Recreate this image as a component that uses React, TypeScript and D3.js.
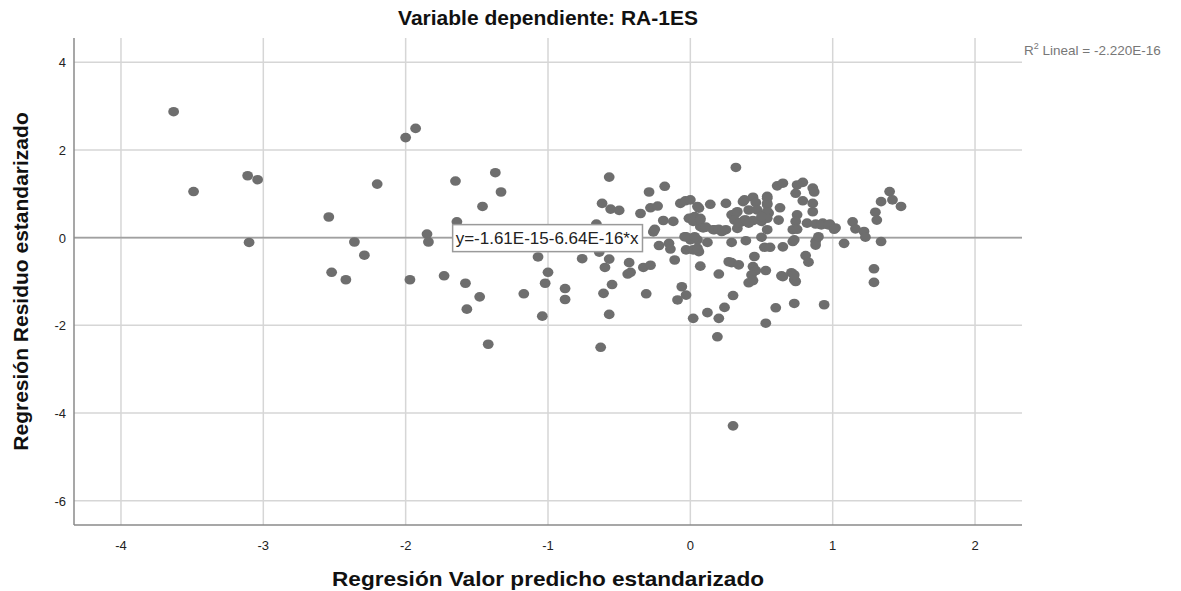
import React, { useEffect, useRef } from "react";
import * as d3 from "d3";

// predicted (standardized) values
const predicted = [
	-3.63, -3.49, -3.11, -3.04, -3.1, -2.54, -2.52, -2.42, -2.36, -2.29, -2.2, -2.0, -1.93, -1.85, -1.84, -1.97,
	-1.73, -1.65, -1.64, -1.37, -1.33, -1.46, -1.58, -1.48, -1.57, -1.42, -1.17, -1.07, -1.0, -1.02, -1.04, -0.88,
	-0.88, -0.76, -0.63, -0.57, -0.62, -0.56, -0.5, -0.66, -0.64, -0.57, -0.6, -0.55, -0.61, -0.57, -0.35, -0.29,
	-0.18, -0.28, -0.23, -0.07, -0.035, -0.19, -0.12, -0.26, -0.25, -0.22, -0.15, -0.14, -0.11, -0.43, -0.44, -0.42,
	-0.33, -0.28, -0.31, -0.06, -0.09, -0.03, -0.03, -0.03, 0.005, 0.0, 0.02, 0.32, 0.61, 0.65, 0.0, 0.06,
	0.14, 0.25, 0.37, 0.38, 0.44, 0.46, 0.54, 0.54, 0.41, 0.47, 0.63, 0.29, 0.32, 0.38, 0.44, 0.5,
	0.55, 0.62, 0.03, 0.07, 0.07, 0.16, 0.22, 0.25, 0.33, 0.37, 0.54, 0.5, 0.72, 0.05, 0.12, 0.29,
	0.39, 0.52, 0.56, 0.65, 0.06, 0.45, 0.07, 0.29, 0.34, 0.44, 0.46, 0.53, 0.43, 0.41, 0.44, 0.2,
	0.64, 0.71, 0.73, 0.3, 0.24, 0.12, 0.2, 0.6, 0.53, 0.73, 0.19, 0.79, 0.75, 0.74, 0.86, 0.87,
	0.79, 0.86, 0.86, 0.75, 0.74, 0.82, 0.88, 0.93, 0.98, 1.02, 0.75, 0.88, 0.88, 1.08, 1.14, 1.16,
	1.22, 1.23, 1.3, 1.31, 0.81, 0.83, 0.72, 0.54, 0.54, 0.54, 0.54, 0.5, 0.05, -0.01, 0.02, 0.07,
	0.09, 0.11, 0.17, 0.2, 0.23, 0.33, 0.31, 0.34, 0.39, 0.41, -0.04, 0.03, 0.02, 0.05, 0.27, 0.9,
	0.73, 0.92, 0.97, 1.01, 1.34, 1.34, 1.4, 1.42, 1.48, 0.74, 0.73, 0.94, 1.29, 1.29, 0.3, 0.65,
];

// standardized residuals, same order
const residual = [
	2.87, 1.05, 1.41, 1.32, -0.11, 0.47, -0.79, -0.96, -0.1, -0.4, 1.22, 2.28, 2.49, 0.08, -0.1, -0.96,
	-0.87, 1.29, 0.36, 1.48, 1.04, 0.71, -1.04, -1.35, -1.63, -2.43, -1.28, -0.44, -0.79, -1.04, -1.79, -1.16,
	-1.41, -0.48, -2.5, 1.38, 0.78, 0.65, 0.62, 0.31, -0.33, -0.49, -0.68, -1.07, -1.27, -1.75, 0.55, 1.04,
	1.17, 0.68, 0.72, 0.78, 0.84, 0.39, 0.37, 0.13, 0.19, -0.18, -0.13, -0.26, -0.51, -0.57, -0.83, -0.79,
	-0.68, -0.63, -1.28, -1.12, -1.42, -1.31, 0.02, -0.28, 0.44, -0.05, -1.84, 1.6, 1.18, 1.24, 0.86, 0.67,
	0.76, 0.78, 0.82, 0.86, 0.92, 0.8, 0.94, 0.78, 0.63, 0.63, 0.68, 0.52, 0.56, 0.4, 0.39, 0.37,
	0.56, 0.4, 0.48, 0.44, 0.25, 0.18, 0.14, 0.18, 0.21, 0.37, 0.18, 0.01, 0.18, -0.05, -0.11, -0.11,
	-0.07, -0.22, -0.22, -0.21, -0.32, -0.43, -0.65, -0.57, -0.62, -0.66, -0.75, -0.75, -0.85, -1.03, -0.98, -0.83,
	-0.87, -0.8, -0.96, -1.32, -1.59, -1.71, -1.84, -1.6, -1.95, -1.5, -2.26, 1.26, 1.2, 1.01, 1.13, 1.04,
	0.84, 0.78, 0.59, 0.52, 0.37, 0.33, 0.31, 0.33, 0.31, 0.22, 0.19, -0.09, -0.17, -0.13, 0.36, 0.2,
	0.14, 0.01, 0.58, 0.4, -0.41, -0.56, -0.09, 0.9, 0.75, 0.59, 0.44, 0.48, 0.71, 0.44, 0.37, 0.4,
	0.22, 0.24, 0.18, 0.19, 0.16, 0.59, 0.4, 0.33, 0.4, 0.33, 0.02, 0.02, -0.28, -0.24, -0.55, 0.02,
	-0.05, 0.29, 0.29, 0.19, -0.09, 0.82, 1.05, 0.86, 0.71, -1.0, -0.85, -1.53, -0.71, -1.02, -4.29, -0.89,
];

const xTicks = [-4, -3, -2, -1, 0, 1, 2];
const yTicks = [4, 2, 0, -2, -4, -6];

// fit line coefficients from the chart label
const intercept = -1.61e-15;
const slope = -6.64e-16;

const App = () => {
	const svgRef = useRef(null);

	useEffect(() => {
		const width = 1181;
		const height = 591;
		const margin = { top: 38, right: 159, bottom: 66, left: 74 };
		const font = "'Liberation Sans', Arial, sans-serif";

		const svg = d3.select(svgRef.current);
		svg.selectAll("*").remove();
		svg.attr("width", width).attr("height", height);

		const x = d3.scaleLinear().domain([-4.33, 2.33]).range([margin.left, width - margin.right]);
		const y = d3.scaleLinear().domain([-6.55, 4.55]).range([height - margin.bottom, margin.top]);

		const [x0, x1] = x.range();
		const [y0, y1] = y.range();

		// grid
		svg.append("g")
			.selectAll("line")
			.data(xTicks)
			.join("line")
			.attr("x1", (d) => x(d))
			.attr("x2", (d) => x(d))
			.attr("y1", y1)
			.attr("y2", y0)
			.attr("stroke", "#d6d6d6")
			.attr("stroke-width", 1.5);

		svg.append("g")
			.selectAll("line")
			.data(yTicks)
			.join("line")
			.attr("x1", x0)
			.attr("x2", x1)
			.attr("y1", (d) => y(d))
			.attr("y2", (d) => y(d))
			.attr("stroke", "#d6d6d6")
			.attr("stroke-width", 1.5);

		// fit line
		const [dx0, dx1] = x.domain();
		svg.append("line")
			.attr("x1", x(dx0))
			.attr("x2", x(dx1))
			.attr("y1", y(intercept + slope * dx0))
			.attr("y2", y(intercept + slope * dx1))
			.attr("stroke", "#a0a0a0")
			.attr("stroke-width", 1.6);

		// axis lines
		svg.append("line").attr("x1", x0).attr("x2", x0).attr("y1", y1).attr("y2", y0)
			.attr("stroke", "#8a8a8a").attr("stroke-width", 1.5);
		svg.append("line").attr("x1", x0).attr("x2", x1).attr("y1", y0).attr("y2", y0)
			.attr("stroke", "#8a8a8a").attr("stroke-width", 1.5);

		// points (slightly wider than tall, as in the source)
		svg.append("g")
			.selectAll("ellipse")
			.data(predicted.map((p, i) => [p, residual[i]]))
			.join("ellipse")
			.attr("cx", (d) => x(d[0]))
			.attr("cy", (d) => y(d[1]))
			.attr("rx", 5.4)
			.attr("ry", 4.8)
			.attr("fill", "#6e6e6e");

		// tick labels
		svg.append("g")
			.selectAll("text")
			.data(xTicks)
			.join("text")
			.attr("x", (d) => x(d))
			.attr("y", y0 + 25)
			.attr("text-anchor", "middle")
			.style("font-family", font)
			.style("font-size", "13px")
			.style("fill", "#222")
			.text((d) => d);

		svg.append("g")
			.selectAll("text")
			.data(yTicks)
			.join("text")
			.attr("x", x0 - 8)
			.attr("y", (d) => y(d) + 5)
			.attr("text-anchor", "end")
			.style("font-family", font)
			.style("font-size", "13px")
			.style("fill", "#222")
			.text((d) => d);

		// equation box
		const eq = svg.append("g").attr("transform", `translate(${x(-1.67)},${y(0) - 13})`);
		const eqText = eq.append("text")
			.attr("x", 3)
			.attr("y", 19)
			.style("font-family", font)
			.style("font-size", "17px")
			.style("fill", "#222")
			.text("y=-1.61E-15-6.64E-16*x");
		const bw = eqText.node().getComputedTextLength() + 7;
		eq.insert("rect", "text")
			.attr("width", bw)
			.attr("height", 27)
			.attr("fill", "#fff")
			.attr("stroke", "#9a9a9a")
			.attr("stroke-width", 1.5);

		// R2 label
		const r2 = svg.append("text")
			.attr("x", x1 + 2)
			.attr("y", y(4) - 7)
			.style("font-family", font)
			.style("font-size", "13.5px")
			.style("fill", "#777");
		r2.append("tspan").text("R");
		r2.append("tspan").attr("dy", -6).style("font-size", "9px").text("2");
		r2.append("tspan").attr("dy", 6).text(" Lineal = -2.220E-16");

		// titles
		svg.append("text")
			.attr("x", (x0 + x1) / 2)
			.attr("y", 25)
			.attr("text-anchor", "middle")
			.style("font-family", font)
			.style("font-size", "21px")
			.style("font-weight", "bold")
			.style("fill", "#111")
			.text("Variable dependiente: RA-1ES");

		svg.append("text")
			.attr("x", (x0 + x1) / 2)
			.attr("y", 586)
			.attr("text-anchor", "middle")
			.attr("textLength", 432)
			.attr("lengthAdjust", "spacingAndGlyphs")
			.style("font-family", font)
			.style("font-size", "21px")
			.style("font-weight", "bold")
			.style("fill", "#111")
			.text("Regresión Valor predicho estandarizado");

		svg.append("text")
			.attr("transform", `translate(28,${(y0 + y1) / 2}) rotate(-90)`)
			.attr("text-anchor", "middle")
			.style("font-family", font)
			.style("font-size", "21px")
			.style("font-weight", "bold")
			.style("fill", "#111")
			.text("Regresión Residuo estandarizado");
	}, []);

	return (
		<div style={{ position: "absolute", left: 0, top: 0, background: "#fff" }}>
			<svg ref={svgRef}></svg>
		</div>
	);
};

export default App;
